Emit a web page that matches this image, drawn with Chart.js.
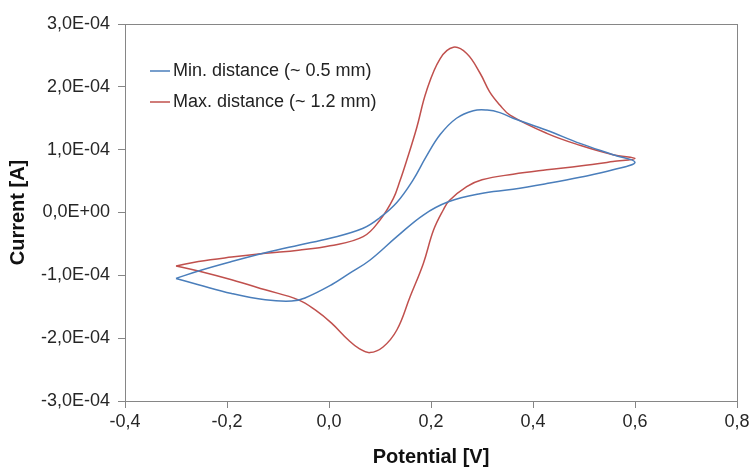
<!DOCTYPE html>
<html>
<head>
<meta charset="utf-8">
<script src="https://cdn.jsdelivr.net/npm/chart.js@4.4.1/dist/chart.umd.min.js"></script>
<style>
  body { margin: 0; background: #fff; }
  #wrap { width: 749px; height: 469px; }
</style>
</head>
<body>
<div id="wrap"><canvas id="cvChart"></canvas></div>
<script>
// potential in V, current in units of 1E-04 A (one closed loop each, forward then reverse)
const minPotential = [-0.30, -0.256, -0.191, -0.125, -0.06, 0.002, 0.067, 0.10, 0.133, 0.165, 0.19, 0.218, 0.25, 0.283, 0.31, 0.335, 0.361, 0.427, 0.492, 0.557, 0.60,
  0.557, 0.492, 0.427, 0.361, 0.296, 0.234, 0.185, 0.133, 0.08, 0.04, 0.005, -0.047, -0.073, -0.125, -0.191, -0.256, -0.30];
const minCurrent = [-1.05, -0.93, -0.78, -0.64, -0.52, -0.41, -0.25, -0.08, 0.16, 0.52, 0.88, 1.24, 1.50, 1.62, 1.63, 1.59, 1.50, 1.31, 1.10, 0.92, 0.80,
  0.68, 0.56, 0.46, 0.37, 0.30, 0.17, -0.04, -0.385, -0.76, -0.97, -1.15, -1.36, -1.41, -1.39, -1.29, -1.15, -1.05];

const maxPotential = [-0.30, -0.256, -0.191, -0.125, -0.06, 0.002, 0.067, 0.10, 0.126, 0.139, 0.152, 0.172, 0.191, 0.218, 0.244, 0.27, 0.296, 0.315, 0.335, 0.355, 0.427, 0.492, 0.557, 0.60,
  0.557, 0.492, 0.427, 0.361, 0.30, 0.27, 0.236, 0.224, 0.205, 0.185, 0.159, 0.133, 0.106, 0.08, 0.06, 0.038, 0.005, -0.027, -0.06, -0.125, -0.191, -0.256, -0.30];
const maxCurrent = [-0.85, -0.78, -0.71, -0.65, -0.60, -0.53, -0.385, -0.12, 0.22, 0.50, 0.82, 1.35, 1.93, 2.45, 2.63, 2.53, 2.22, 1.92, 1.71, 1.55, 1.26, 1.07, 0.92, 0.86,
  0.81, 0.74, 0.68, 0.61, 0.52, 0.41, 0.19, 0.04, -0.28, -0.81, -1.34, -1.87, -2.14, -2.23, -2.17, -2.03, -1.76, -1.55, -1.39, -1.23, -1.07, -0.93, -0.85];

const seriesLabels = ['Min. distance (~ 0.5 mm)', 'Max. distance (~ 1.2 mm)'];
const unit = 1e-4;

function toPoints(xs, ys) {
  return xs.map((x, i) => ({ x: x, y: ys[i] * unit }));
}

function sciLabel(v) {
  if (Math.abs(v) < 1e-12) return '0,0E+00';
  let parts = v.toExponential(1).split('e');
  let exp = parseInt(parts[1], 10);
  let expStr = (exp < 0 ? '-' : '+') + String(Math.abs(exp)).padStart(2, '0');
  return parts[0].replace('.', ',') + 'E' + expStr;
}

const axisGrey = '#868686';

// box round the plot and the legend inside it
const plotExtras = {
  id: 'plotExtras',
  afterDraw(chart) {
    const ctx = chart.ctx;
    const a = chart.chartArea;
    ctx.save();
    ctx.strokeStyle = axisGrey;
    ctx.lineWidth = 1;
    ctx.strokeRect(a.left + 0.5, a.top + 0.5, a.right - a.left, a.bottom - a.top);

    ctx.font = '18px "Liberation Sans", Arial, sans-serif';
    ctx.textBaseline = 'middle';
    ctx.fillStyle = '#222';
    chart.data.datasets.forEach((ds, i) => {
      const y = a.top + 47 + i * 31;
      ctx.strokeStyle = ds.borderColor;
      ctx.lineWidth = 1.5;
      ctx.beginPath();
      ctx.moveTo(a.left + 25, y);
      ctx.lineTo(a.left + 45, y);
      ctx.stroke();
      ctx.fillText(ds.label, a.left + 48, y);
    });
    ctx.restore();
  }
};

const ctx = document.getElementById('cvChart').getContext('2d');
const cvChart = new Chart(ctx, {
  type: 'scatter',
  data: {
    datasets: [{
      label: seriesLabels[0],
      data: toPoints(minPotential, minCurrent),
      borderColor: '#4a7ebb',
      borderWidth: 1.5
    }, {
      label: seriesLabels[1],
      data: toPoints(maxPotential, maxCurrent),
      borderColor: '#c0504d',
      borderWidth: 1.5
    }]
  },
  options: {
    responsive: true,
    maintainAspectRatio: false,
    animation: false,
    showLine: true,
    elements: {
      point: { radius: 0, hoverRadius: 0 },
      line: { tension: 0.4, fill: false }
    },
    layout: { padding: { top: 24, right: 12, left: 0, bottom: 0 } },
    plugins: {
      legend: { display: false },
      tooltip: { enabled: false }
    },
    scales: {
      x: {
        type: 'linear',
        min: -0.4,
        max: 0.8,
        afterFit(scale) { scale.height = 68; scale.paddingRight = 0; },
        ticks: {
          stepSize: 0.2,
          padding: 3,
          color: '#262626',
          font: { family: '"Liberation Sans", Arial, sans-serif', size: 18 },
          callback: (v) => (Math.round(v * 10) / 10 + 0).toFixed(1).replace('.', ',')
        },
        grid: { drawOnChartArea: false, color: axisGrey, tickLength: 7 },
        border: { color: axisGrey },
        title: {
          display: true,
          text: 'Potential [V]',
          color: '#111',
          padding: { top: 0, bottom: 0 },
          font: { family: '"Liberation Sans", Arial, sans-serif', size: 20, weight: 'bold' }
        }
      },
      y: {
        type: 'linear',
        min: -3e-4,
        max: 3e-4,
        afterFit(scale) { scale.width = 125; },
        ticks: {
          stepSize: 1e-4,
          padding: 8,
          color: '#262626',
          font: { family: '"Liberation Sans", Arial, sans-serif', size: 18 },
          callback: (v) => sciLabel(v)
        },
        grid: { drawOnChartArea: false, color: axisGrey, tickLength: 7 },
        border: { color: axisGrey },
        title: {
          display: true,
          text: 'Current [A]',
          color: '#111',
          padding: { top: 6, bottom: 0 },
          font: { family: '"Liberation Sans", Arial, sans-serif', size: 20, weight: 'bold' }
        }
      }
    }
  },
  plugins: [plotExtras]
});
</script>
</body>
</html>
